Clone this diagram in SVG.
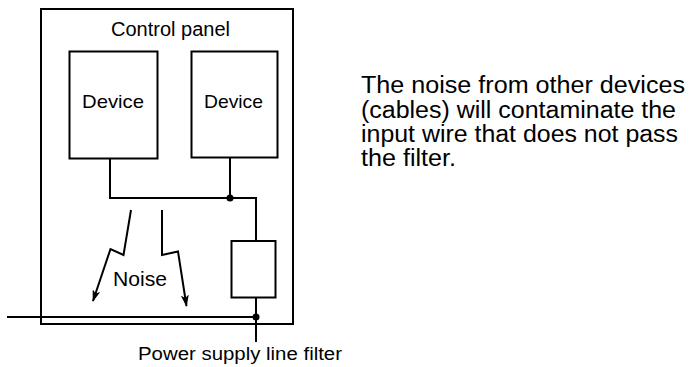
<svg xmlns="http://www.w3.org/2000/svg" width="692" height="367" viewBox="0 0 692 367">
<style>
.ln{fill:none;stroke:#000;stroke-width:2;stroke-linejoin:miter}
.bx{fill:#fff;stroke:#000;stroke-width:2}
.t{font-family:"Liberation Sans",Arial,sans-serif;fill:#000}
</style>
<defs>
<marker id="ah" markerWidth="12" markerHeight="8" refX="11" refY="4" orient="auto" markerUnits="userSpaceOnUse">
<path d="M0,0 L12,4 L0,8 L3,4 Z" fill="#000"/>
</marker>
</defs>
<rect width="692" height="367" fill="#fff"/>
<g id="panel">
<rect class="bx" x="41" y="9" width="252" height="315" fill="none"/>
<text class="t" x="170.5" y="35.5" font-size="20" text-anchor="middle" textLength="119" lengthAdjust="spacingAndGlyphs">Control panel</text>
</g>
<g id="device1">
<rect class="bx" x="69.5" y="51.5" width="88" height="107"/>
<text class="t" x="113" y="107.5" font-size="19" text-anchor="middle" textLength="62" lengthAdjust="spacingAndGlyphs">Device</text>
</g>
<g id="device2">
<rect class="bx" x="191.5" y="51.5" width="86" height="106"/>
<text class="t" x="233.5" y="107.5" font-size="19" text-anchor="middle" textLength="59" lengthAdjust="spacingAndGlyphs">Device</text>
</g>
<g id="filter">
<rect class="bx" x="231.5" y="241" width="44" height="56.5"/>
</g>
<g id="connectors">
<path class="ln" d="M110,158.5 V198 H256 V241"/>
<path class="ln" d="M230,157.5 V198"/>
<path class="ln" d="M256,297.5 V317"/>
<path class="ln" d="M7,317 H256 V342"/>
<circle cx="230" cy="198" r="3.5" fill="#000"/>
<circle cx="256" cy="317" r="3.5" fill="#000"/>
<path class="ln" d="M131,210 L123.5,255 L110.5,249 L93,301" marker-end="url(#ah)"/>
<path class="ln" d="M162,210 L162,255 L178,251.5 L186.5,306" marker-end="url(#ah)"/>
</g>
<g id="labels">
<text class="t" x="113" y="286" font-size="20" textLength="54" lengthAdjust="spacingAndGlyphs">Noise</text>
<text class="t" x="138" y="360" font-size="18" textLength="204" lengthAdjust="spacingAndGlyphs">Power supply line filter</text>
<text class="t" x="361" y="92.5" font-size="23" textLength="324" lengthAdjust="spacingAndGlyphs">The noise from other devices</text>
<text class="t" x="361" y="117.5" font-size="23" textLength="315" lengthAdjust="spacingAndGlyphs">(cables) will contaminate the</text>
<text class="t" x="361" y="141.5" font-size="23" textLength="317" lengthAdjust="spacingAndGlyphs">input wire that does not pass</text>
<text class="t" x="361" y="165.5" font-size="23" textLength="95" lengthAdjust="spacingAndGlyphs">the filter.</text>
</g>
</svg>
